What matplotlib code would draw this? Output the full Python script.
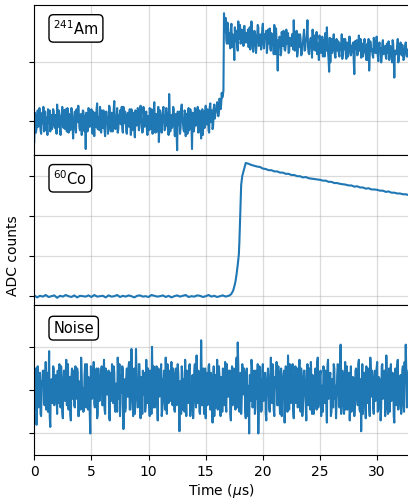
import numpy as np
import matplotlib
matplotlib.use("Agg")
import matplotlib.pyplot as plt
from matplotlib.ticker import MultipleLocator

# sample clock of the digitiser traces (us); even / odd samples kept apart
dt = 0.05

# 241Am trace, ADC counts relative to baseline (even samples: t = 0, 0.1, ...)
am_even = [
    -18, 4, -6, 9, -3, 2, -11, 7, 12, -4, -8, 3, 10, -2, -9, 5, -1, 8, -6, 2,
    14, -5, 1, -12, 6, -3, 9, -7, 0, 11, -10, 4, -2, 7, -15, 3, -6, 10, -1, 5,
    -8, 6, -4, 8, -9, -24, 1, -7, 5, -3, 10, -11, 2, 7, -5, 15, -2, -8, 4, 9,
    -6, 3, -13, 8, 0, -4, 11, -9, 6, -1, 17, -7, 2, -10, 5, 9, -3, -6, 12, -2,
    4, -11, 7, -5, 1, 10, -8, 3, -14, 6, -2, 9, -6, 13, 0, -9, 5, -4, 8, -12,
    2, 11, -7, 4, -3, 16, -10, 6, -1, -18, 9, -5, 3, 12, -8, 1, -4, 7, 23, -9,
    5, -2, 10, -13, 6, -25, 3, 8, -6, 14, -1, -9, 7, 2, -11, 11, -4, 6, -24, 4,
    -5, 9, -2, 12, -8, 3, -15, 10, 1, -6, 13, -3, 7, -10, 15, 5, -7, 11, 2, 8,
    16, 4, 19, 10, 24, 22,
    92, 80, 70, 84, 66, 75, 79, 63, 72, 52, 68, 77, 60, 74, 82, 69, 76, 64, 81, 71,
    67, 78, 73, 61, 85, 70, 65, 76, 58, 72, 80, 66, 74, 69, 83, 62, 71, 77, 64, 73,
    79, 60, 70, 66, 82, 57, 68, 43, 63, 71, 58, 67, 77, 61, 65, 73, 75, 59, 69, 64,
    72, 86, 60, 68, 55, 74, 63, 70, 57, 66, 78, 61, 69, 86, 58, 65, 71, 54, 67, 73,
    60, 76, 64, 52, 69, 58, 72, 63, 55, 67, 80, 59, 42, 50, 70, 61, 74, 56, 66, 62,
    68, 55, 63, 74, 58, 61, 70, 53, 65, 59, 72, 56, 64, 67, 40, 62, 69, 57, 73, 60,
    54, 66, 61, 70, 57, 64, 52, 43, 68, 60, 56, 71, 63, 58, 65, 51, 67, 62, 55, 69,
    59, 64, 53, 61, 68, 56, 62, 50, 66, 37, 60, 57, 70, 54, 63, 58, 65, 52, 61, 67, 55, 60,
]
# odd samples: t = 0.05, 0.15, ...
am_odd = [
    7, -10, 3, -5, 11, -8, 4, -2, -9, 8, 2, -12, 6, 9, -4, -7, 10, -3, 5, -11,
    -3, 9, -7, 4, 12, -6, 1, 10, -9, 3, 6, -8, 11, -4, 0, 8, -10, 2, 13, -6,
    5, -12, 9, -1, 4, 7, -9, 11, -5, 2, -6, 8, -13, 4, 10, -7, 3, 12, -10, -1,
    9, -8, 5, 2, -11, 13, -4, 7, -9, 10, -5, 3, 11, -7, -2, 6, 12, -10, 4, 8,
    -9, 5, -3, 10, -12, 2, 7, -6, 9, -4, 11, -8, 3, -1, -10, 12, -5, 6, -7, 4,
    -8, 6, 10, -11, 8, -2, 3, -9, 12, -5, 4, -10, 9, 1, -7, 11, -3, -12, 6, 2,
    -6, 12, -4, 5, -9, 8, -3, -11, 10, 2, -7, 9, -13, 6, 4, -8, 10, -2, 7, -9,
    11, -4, 6, -10, 9, -7, 3, -12, 8, 5, -3, 10, -8, 12, -1, 9, -4, 14, 6, 11,
    13, 8, 17, 14, 20, 26,
    76, 88, 66, 79, 71, 62, 83, 74, 68, 80, 73, 64, 85, 70, 66, 78, 72, 81, 67, 75,
    72, 63, 80, 68, 75, 59, 77, 70, 66, 82, 64, 73, 61, 79, 67, 74, 70, 58, 78, 66,
    62, 75, 68, 57, 73, 79, 61, 69, 72, 56, 76, 64, 70, 60, 78, 66, 58, 71, 67, 74,
    61, 70, 66, 77, 59, 68, 74, 56, 65, 72, 60, 69, 75, 63, 57, 70, 66, 78, 61, 64,
    70, 57, 66, 73, 59, 64, 55, 69, 75, 60, 63, 52, 71, 65, 58, 67, 62, 54, 70, 60,
    57, 66, 61, 53, 70, 64, 58, 67, 55, 72, 61, 59, 65, 51, 68, 63, 56, 66, 60, 70,
    62, 55, 67, 59, 52, 66, 70, 57, 63, 61, 54, 68, 58, 72, 56, 64, 60, 50, 66, 57,
    61, 55, 66, 58, 52, 64, 59, 69, 54, 60, 57, 63, 50, 62, 67, 56, 59, 53, 64, 58, 61, 55,
]

# 60Co pulse (time in us, ADC counts)
co_base_vals = [
    2, -3, 1, -1, 3, -2, 0, 2, -4, 1, -1, 3, 0, -2, 2, -3, 1, 0, -1, 2,
    -2, 3, -1, 0, 1, -3, 2, -1, 0, 3, -2, 1, -1, 2, 0, -3, 1, 2, -1, 0,
    -2, 3, 1, -1, 0, 2, -2, 1, -3, 0, 2, -1, 1, 3, -2, 0, -1, 2, 1, -2,
    0, 3, -1, 1, -2, 0, 2, -1, 1,
]
co_rise_t = [17.1, 17.25, 17.4, 17.5, 17.6, 17.7, 17.8, 17.9, 17.95, 18.0,
             18.05, 18.1, 18.2, 18.3, 18.4, 18.5]
co_rise_vals = [2, 6, 14, 24, 36, 55, 78, 105, 140, 186, 240, 277, 300, 311, 322, 332]
co_tail_vals = [
    330, 327, 325, 323, 322, 318, 317, 314, 314, 311,
    311, 308, 308, 305, 305, 302, 302, 299, 299, 296,
    297, 294, 293, 292, 291, 290, 288, 288, 285, 285,
    282, 282, 280, 279, 278, 276, 276, 273, 274, 271,
    271, 268, 269, 266, 266, 265, 263, 263, 260, 261,
    258, 258, 256, 256, 254, 254, 252,
]

# noise-only trace (even and odd samples)
noise_even = [
    6, -9, -16, 11, -4, 8, -12, 3, 9, -7, 13, -2, -10, 18, -17, 5, -6, 10, -3, 7,
    -11, 4, 12, -8, 1, -13, 9, -5, 14, -1, -9, 6, -14, 10, 2, -7, 11, -4, 8, -12,
    3, 15, -6, -10, 7, -3, 12, -9, 5, -20, 9, -2, 13, -8, 4, -13, 10, -5, 1, 11,
    -7, 14, -11, 6, -2, 9, -14, 3, 12, -6, 8, -10, 2, 15, -4, -12, 7, 11, -18, 5,
    -8, 10, -3, 13, -9, 19, -5, 6, -11, 19, 1, -7, 12, -13, 4, 9, -2, -10, 14, -6,
    7, -12, 3, 20, -8, 5, -4, 11, -14, 8, -1, 12, -9, 4, -6, 15, -11, 2, 9, -5,
    13, -7, 6, -10, 10, -3, 8, -19, 4, 11, -9, 1, 14, -12, 7, -4, 12, -8, 3, -13,
    9, -2, 16, -6, 5, -11, 23, -7, 10, -4, -13, 8, -1, 12, -9, 6, -15, 11, 2, -8,
    14, -5, 7, -12, 3, 10, -7, 13, -10, 5, -3, 9, -14, 11, -1, 6, -9, 15, 22, -6,
    4, -11, 12, -2, 8, -13, 10, -5, -20, 7, 14, -8, 2, -11, 9, -4, -20, 11, 5, -9,
    12, -3, 8, -14, 6, 1, -10, 15, -6, 9, -12, 4, 13, -7, 2, -11, 10, -3, 7, -15,
    11, -5, 16, -9, 3, -1, 12, -13, 8, -6, 10, -4, 14, -10, 5, -8, 9, -2, -14, 12,
    -7, 6, 13, -11, 4, -3, 10, -9, 15, -5, 7, -12, 2, 11, -6, 9, -15, 14, -1, 8,
    -10, 5, 12, -4, -13, 7, 10, -8, 21, -6, 3, -11, 13, 1, -9, 8, -14, 11, -2, 6,
    -12, 9, 4, -7, 14, -10, -19, 12, -5, 8, -13, 3, 10, -8, 15, -3, 6, -11, 9, -1,
    13, -9, 5, -14, 11, -4, 8, -12, 16, -6, 2, -10, 12, -3, 7, -15, 10, -7, 14, -5,
    4, -11, 9, -2, 13, 21, -8, 6,
]
noise_odd = [
    -5, 10, 2, -8, 7, -11, 4, 9, -6, 1, -9, 8, 5, -12, 3, -4, 11, -7, 6, -2,
    9, -6, -3, 11, -10, 5, -1, 8, -7, 12, 3, -11, 6, -4, 9, -8, 2, 10, -12, 4,
    -9, 7, 1, -5, 12, -8, 3, 6, -10, 11, -4, 8, -6, 2, 10, -11, 5, -3, 9, -7,
    4, -9, 10, -2, 6, -12, 8, -5, 1, 11, -8, 3, -10, 7, 12, -6, -1, 9, -4, -10,
    6, -3, 11, -9, 2, 7, -12, 10, -4, 5, -8, 12, -2, 6, -11, 3, 8, -7, 1, 10,
    -6, 9, -11, 4, 11, -8, 2, -5, 10, -3, 7, -12, 5, 9, -9, 1, 12, -6, -4, 8,
    -2, 10, -9, 6, -7, 12, -3, 4, -11, 8, 5, -10, 2, 9, -6, 11, -12, 3, 7, -5,
    12, -8, 4, 9, -10, 2, 6, -3, -11, 10, 5, -7, 11, -2, 8, -9, 3, -12, 7, 1,
    -9, 11, -4, 6, -10, 8, 2, -6, 12, -3, 9, -11, 4, -7, 10, -1, 5, -8, 11, -10,
    8, -4, 3, 10, -9, 6, -12, 2, 7, -5, 11, -3, 9, -8, 1, 12, -6, 4, -10, 9,
    -5, 7, -11, 3, 10, -8, 5, -2, 12, -9, 6, 1, -7, 11, -4, 8, -12, 4, 9, -3,
    6, -10, 2, 12, -6, 8, -9, 4, 11, -2, -8, 7, -5, 10, -12, 3, 9, -7, 5, 1,
    10, -9, 4, 7, -11, 6, -3, 12, -8, 2, 9, -5, -10, 8, 3, -7, 11, -4, 6, -12,
    5, -8, 10, 2, -6, 12, -3, 7, -11, 9, -1, 4, -9, 11, -5, 8, -2, -10, 6, 3,
    -7, 10, -4, 12, -9, 5, 1, -11, 8, -3, 11, -6, 4, -12, 7, 9, -8, 2, -5, 10,
    -10, 6, 3, -8, 12, -2, 9, -7, 4, -11, 10, 1, -5, 8, -12, 6, -3, 11, -9, 2,
    7, -6, 11, -10, 5, 8, -4, 9,
]

labels = [r"$^{241}$Am", r"$^{60}$Co", "Noise"]


def merge(even, odd):
    vals = np.empty(len(even) + len(odd))
    vals[0::2] = even
    vals[1::2] = odd
    return vals


am_vals = merge(am_even, am_odd)
noise_vals = merge(noise_even, noise_odd)
am_t = np.arange(len(am_vals)) * dt
noise_t = np.arange(len(noise_vals)) * dt
co_t = np.concatenate([np.arange(len(co_base_vals)) * 0.25, co_rise_t,
                       18.75 + np.arange(len(co_tail_vals)) * 0.25])
co_vals = co_base_vals + co_rise_vals + co_tail_vals

fig, axs = plt.subplots(3, 1, sharex=True, figsize=(4.08, 4.99), dpi=100)
fig.subplots_adjust(left=0.084, right=1.002, top=0.989, bottom=0.088, hspace=0)

axs[0].plot(am_t, am_vals, color="C0", lw=1.5)
axs[1].plot(co_t, co_vals, color="C0", lw=1.5)
axs[2].plot(noise_t, noise_vals, color="C0", lw=1.5)

axs[0].set_ylim(-29.4, 98.6)
axs[0].yaxis.set_major_locator(MultipleLocator(50))
axs[1].set_ylim(-22.5, 351)
axs[1].yaxis.set_major_locator(MultipleLocator(100))
axs[2].set_ylim(-30, 39.2)
axs[2].yaxis.set_major_locator(MultipleLocator(20))

for ax, lab in zip(axs, labels):
    ax.grid(True, color="#b0b0b0", alpha=0.45, lw=0.9)
    ax.set_axisbelow(True)
    ax.set_yticklabels([])
    ax.text(0.051, 0.847, lab, transform=ax.transAxes, fontsize=10.5,
            va="center", ha="left",
            bbox=dict(boxstyle="round,pad=0.3", fc="white", ec="black", lw=1.0))

axs[2].set_xlim(0, 32.768)
axs[2].xaxis.set_major_locator(MultipleLocator(5))
axs[2].set_xlabel(r"Time ($\mu$s)", fontsize=10, labelpad=2)
fig.text(0.032, 0.487, "ADC counts", rotation=90, ha="center", va="center", fontsize=10)

plt.savefig("out.png", dpi=100)
